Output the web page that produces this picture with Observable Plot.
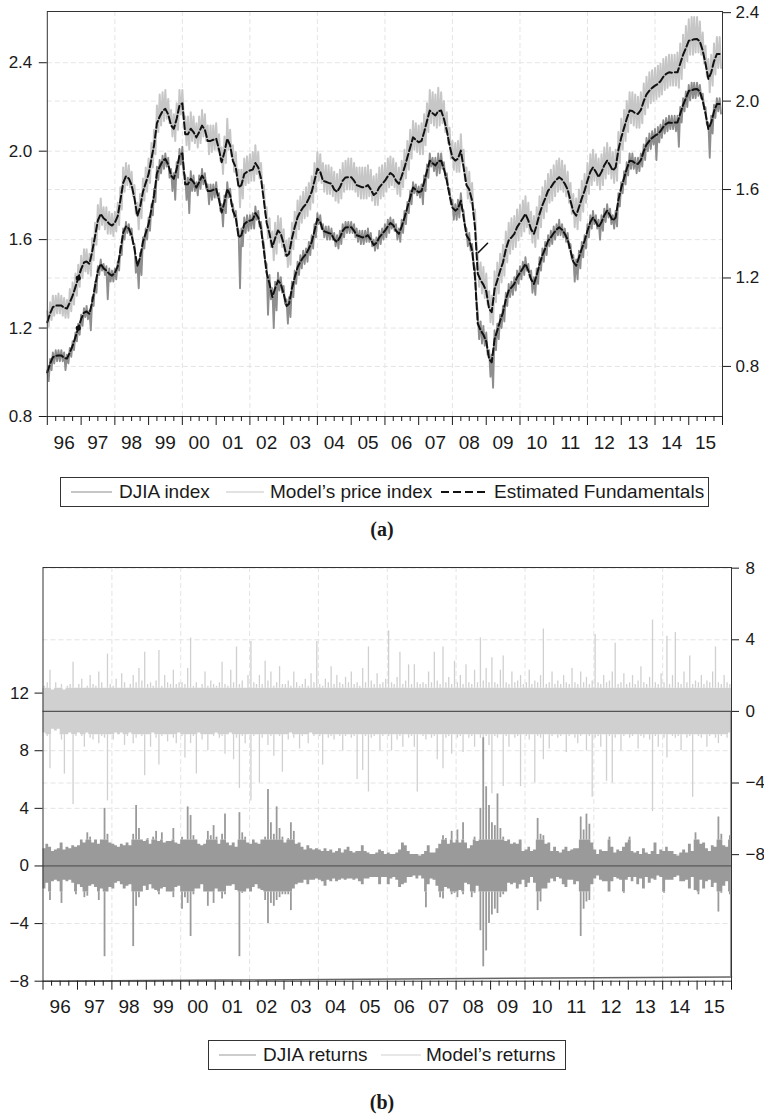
<!DOCTYPE html>
<html>
<head>
<meta charset="utf-8">
<script src="https://cdn.jsdelivr.net/npm/d3@7"></script>
<script src="https://cdn.jsdelivr.net/npm/@observablehq/plot@0.6"></script>
<style>
  body { margin: 0; background: #fff; }
  #page { position: relative; width: 764px; height: 1117px; font-family: "Liberation Sans", Arial, sans-serif; color: #1a1a1a; }
  .panel { position: absolute; left: 0; }
  .legend { position: absolute; border: 1px solid #333; box-sizing: border-box; height: 30px; background: #fff; }
  .legend .item { position: absolute; top: 0; height: 28px; line-height: 28px; font-size: 19px; white-space: nowrap; }
  .legend svg { position: absolute; top: 0; left: 0; }
  .tag { position: absolute; width: 764px; left: 0; text-align: center; font-family: "Liberation Serif", "Times New Roman", serif; font-weight: bold; font-size: 20px; }
</style>
</head>
<body>
<div id="page"></div>
<script>
// ---------- Panel (a): monthly estimated fundamentals, Jan 1996 – Dec 2015 ----------
const fundamentals = [
  1.00,1.04,1.068,1.075,1.076,1.076,1.065,1.062,1.09,1.12,1.16,1.20,
  1.24,1.27,1.275,1.264,1.32,1.39,1.46,1.49,1.47,1.46,1.445,1.437,
  1.45,1.48,1.55,1.63,1.66,1.65,1.62,1.56,1.48,1.52,1.59,1.63,
  1.67,1.74,1.80,1.90,1.93,1.955,1.965,1.94,1.89,1.875,1.92,1.98,
  1.99,1.85,1.85,1.875,1.86,1.836,1.86,1.889,1.87,1.82,1.82,1.825,
  1.83,1.78,1.723,1.77,1.83,1.80,1.73,1.70,1.61,1.62,1.67,1.68,
  1.686,1.69,1.72,1.70,1.65,1.55,1.45,1.40,1.34,1.38,1.415,1.40,
  1.355,1.30,1.31,1.38,1.43,1.475,1.50,1.52,1.535,1.56,1.59,1.64,
  1.694,1.68,1.64,1.635,1.63,1.626,1.60,1.59,1.61,1.64,1.655,1.656,
  1.656,1.64,1.62,1.615,1.61,1.612,1.62,1.60,1.575,1.585,1.61,1.625,
  1.64,1.66,1.675,1.665,1.64,1.626,1.66,1.70,1.746,1.79,1.836,1.825,
  1.814,1.82,1.86,1.91,1.957,1.945,1.935,1.955,1.957,1.92,1.867,1.80,
  1.745,1.731,1.74,1.776,1.70,1.62,1.60,1.55,1.43,1.22,1.19,1.17,
  1.14,1.06,1.045,1.15,1.19,1.234,1.27,1.33,1.37,1.384,1.40,1.43,
  1.45,1.47,1.49,1.46,1.42,1.40,1.44,1.49,1.53,1.56,1.595,1.61,
  1.63,1.645,1.656,1.645,1.626,1.60,1.55,1.50,1.482,1.52,1.56,1.595,
  1.64,1.68,1.70,1.68,1.656,1.68,1.71,1.731,1.71,1.686,1.70,1.78,
  1.836,1.88,1.92,1.957,1.955,1.945,1.942,1.96,2.00,2.03,2.047,2.06,
  2.07,2.078,2.09,2.11,2.123,2.13,2.128,2.13,2.13,2.17,2.21,2.24,
  2.273,2.275,2.28,2.281,2.27,2.228,2.17,2.10,2.13,2.18,2.213,2.213
];

// DJIA index, twice a month (1st and 16th), left axis
const djiaIndex = [
  1.01,0.96, 1.06,1.01, 1.09,1.04, 1.10,1.05, 1.10,1.05, 1.10,1.05, 1.09,1.01, 1.08,1.04, 1.11,1.07, 1.14,1.10, 1.18,1.14, 1.22,1.17,
  1.26,1.21, 1.29,1.25, 1.30,1.24, 1.28,1.19, 1.34,1.30, 1.41,1.36, 1.48,1.44, 1.51,1.46, 1.49,1.44, 1.48,1.33, 1.47,1.41, 1.46,1.41,
  1.47,1.42, 1.50,1.46, 1.57,1.53, 1.65,1.60, 1.68,1.63, 1.67,1.62, 1.65,1.58, 1.58,1.45, 1.50,1.38, 1.54,1.44, 1.61,1.56, 1.65,1.60,
  1.70,1.64, 1.76,1.71, 1.83,1.77, 1.93,1.87, 1.96,1.90, 1.98,1.92, 1.99,1.93, 1.97,1.88, 1.92,1.82, 1.90,1.78, 1.95,1.88, 2.01,1.94,
  2.02,1.90, 1.89,1.78, 1.88,1.72, 1.91,1.82, 1.89,1.82, 1.86,1.80, 1.89,1.83, 1.92,1.85, 1.90,1.83, 1.85,1.76, 1.85,1.78, 1.85,1.79,
  1.86,1.79, 1.81,1.73, 1.76,1.66, 1.80,1.72, 1.86,1.79, 1.83,1.76, 1.76,1.70, 1.73,1.66, 1.64,1.38, 1.65,1.57, 1.70,1.63, 1.71,1.64,
  1.71,1.65, 1.72,1.65, 1.75,1.69, 1.73,1.66, 1.68,1.61, 1.58,1.50, 1.49,1.26, 1.44,1.33, 1.38,1.20, 1.41,1.28, 1.45,1.37, 1.43,1.36,
  1.39,1.31, 1.33,1.22, 1.34,1.25, 1.41,1.34, 1.46,1.40, 1.50,1.44, 1.53,1.47, 1.55,1.49, 1.56,1.50, 1.59,1.53, 1.62,1.56, 1.67,1.61,
  1.72,1.67, 1.71,1.65, 1.67,1.61, 1.66,1.60, 1.66,1.60, 1.65,1.60, 1.63,1.57, 1.62,1.56, 1.64,1.58, 1.67,1.61, 1.68,1.63, 1.68,1.63,
  1.68,1.63, 1.67,1.61, 1.65,1.59, 1.64,1.58, 1.64,1.58, 1.64,1.59, 1.65,1.59, 1.63,1.57, 1.60,1.55, 1.61,1.56, 1.64,1.58, 1.65,1.60,
  1.67,1.61, 1.69,1.63, 1.70,1.65, 1.69,1.64, 1.67,1.60, 1.65,1.59, 1.69,1.63, 1.73,1.67, 1.77,1.72, 1.82,1.76, 1.86,1.81, 1.85,1.80,
  1.84,1.79, 1.85,1.76, 1.89,1.82, 1.94,1.88, 1.99,1.93, 1.97,1.91, 1.97,1.89, 1.99,1.90, 1.99,1.92, 1.95,1.88, 1.90,1.83, 1.83,1.76,
  1.78,1.69, 1.76,1.69, 1.78,1.70, 1.81,1.74, 1.73,1.66, 1.65,1.57, 1.63,1.55, 1.58,1.50, 1.47,1.33, 1.27,1.15, 1.23,1.13, 1.21,1.12,
  1.18,1.08, 1.10,0.98, 1.08,0.93, 1.19,1.10, 1.22,1.15, 1.26,1.20, 1.30,1.23, 1.36,1.30, 1.40,1.34, 1.41,1.35, 1.43,1.37, 1.46,1.40,
  1.48,1.42, 1.50,1.44, 1.52,1.46, 1.49,1.43, 1.46,1.36, 1.43,1.35, 1.47,1.40, 1.52,1.46, 1.56,1.50, 1.59,1.53, 1.62,1.57, 1.64,1.58,
  1.66,1.60, 1.67,1.62, 1.69,1.62, 1.67,1.61, 1.65,1.59, 1.63,1.56, 1.58,1.51, 1.53,1.41, 1.51,1.42, 1.55,1.47, 1.59,1.52, 1.62,1.56,
  1.67,1.61, 1.71,1.65, 1.73,1.67, 1.71,1.65, 1.69,1.60, 1.71,1.64, 1.74,1.68, 1.76,1.70, 1.74,1.67, 1.71,1.65, 1.73,1.66, 1.81,1.75,
  1.86,1.81, 1.91,1.85, 1.95,1.89, 1.99,1.92, 1.99,1.92, 1.97,1.90, 1.97,1.91, 1.99,1.93, 2.03,1.96, 2.06,2.00, 2.08,2.01, 2.09,2.03,
  2.10,1.96, 2.11,2.04, 2.12,2.06, 2.14,2.08, 2.15,2.09, 2.16,2.10, 2.16,2.10, 2.16,2.09, 2.16,2.02, 2.20,2.13, 2.24,2.18, 2.27,2.20,
  2.30,2.23, 2.31,2.24, 2.31,2.24, 2.31,2.25, 2.30,2.24, 2.26,2.19, 2.20,2.12, 2.13,1.97, 2.16,2.08, 2.21,2.15, 2.24,2.18, 2.24,2.17
];

// Model's price index, twice a month, right axis
const modelIndex = [
  1.05,0.98, 1.09,1.01, 1.12,1.03, 1.12,1.04, 1.13,1.04, 1.12,1.03, 1.11,1.02, 1.10,1.02, 1.15,1.05, 1.18,1.08, 1.22,1.12, 1.26,1.16,
  1.30,1.20, 1.33,1.23, 1.33,1.22, 1.31,1.21, 1.38,1.28, 1.45,1.35, 1.53,1.42, 1.56,1.44, 1.52,1.42, 1.52,1.40, 1.50,1.40, 1.49,1.39,
  1.50,1.41, 1.54,1.44, 1.61,1.51, 1.70,1.59, 1.72,1.62, 1.71,1.61, 1.68,1.57, 1.62,1.49, 1.54,1.42, 1.58,1.47, 1.65,1.55, 1.70,1.59,
  1.74,1.63, 1.81,1.70, 1.87,1.76, 1.98,1.86, 2.03,1.89, 2.04,1.91, 2.05,1.92, 2.01,1.90, 1.96,1.84, 1.94,1.82, 1.99,1.87, 2.05,1.94,
  2.05,1.93, 1.93,1.80, 1.93,1.78, 1.95,1.82, 1.93,1.81, 1.90,1.79, 1.93,1.81, 1.96,1.84, 1.94,1.82, 1.89,1.76, 1.89,1.77, 1.89,1.78,
  1.90,1.78, 1.85,1.73, 1.79,1.67, 1.84,1.72, 1.92,1.78, 1.87,1.75, 1.80,1.68, 1.77,1.65, 1.69,1.52, 1.69,1.56, 1.74,1.62, 1.75,1.63,
  1.76,1.64, 1.77,1.64, 1.80,1.67, 1.77,1.65, 1.72,1.60, 1.62,1.49, 1.52,1.38, 1.47,1.34, 1.41,1.28, 1.45,1.31, 1.48,1.36, 1.47,1.34,
  1.42,1.30, 1.37,1.25, 1.38,1.26, 1.45,1.33, 1.50,1.38, 1.55,1.42, 1.57,1.45, 1.59,1.47, 1.61,1.48, 1.63,1.51, 1.66,1.54, 1.72,1.59,
  1.77,1.64, 1.76,1.63, 1.72,1.59, 1.71,1.58, 1.71,1.58, 1.70,1.57, 1.68,1.55, 1.67,1.54, 1.69,1.56, 1.72,1.59, 1.73,1.60, 1.74,1.60,
  1.74,1.60, 1.72,1.59, 1.70,1.57, 1.70,1.56, 1.70,1.56, 1.70,1.56, 1.71,1.57, 1.69,1.55, 1.66,1.53, 1.67,1.53, 1.70,1.56, 1.71,1.57,
  1.72,1.59, 1.74,1.61, 1.75,1.62, 1.74,1.61, 1.72,1.58, 1.70,1.57, 1.73,1.61, 1.78,1.65, 1.82,1.69, 1.87,1.74, 1.91,1.78, 1.90,1.77,
  1.89,1.76, 1.90,1.76, 1.94,1.80, 1.99,1.86, 2.05,1.90, 2.04,1.89, 2.03,1.88, 2.06,1.89, 2.04,1.90, 2.00,1.86, 1.95,1.81, 1.88,1.74,
  1.82,1.69, 1.81,1.68, 1.82,1.68, 1.85,1.72, 1.78,1.64, 1.70,1.56, 1.68,1.54, 1.63,1.49, 1.51,1.37, 1.30,1.16, 1.27,1.13, 1.25,1.11,
  1.22,1.08, 1.14,1.00, 1.12,0.99, 1.23,1.09, 1.27,1.13, 1.31,1.18, 1.35,1.21, 1.41,1.27, 1.45,1.31, 1.47,1.33, 1.48,1.34, 1.51,1.37,
  1.53,1.39, 1.55,1.41, 1.57,1.43, 1.54,1.40, 1.50,1.36, 1.48,1.34, 1.52,1.38, 1.57,1.43, 1.61,1.47, 1.64,1.50, 1.67,1.54, 1.69,1.55,
  1.71,1.57, 1.73,1.59, 1.74,1.60, 1.73,1.59, 1.71,1.57, 1.68,1.54, 1.63,1.49, 1.58,1.43, 1.56,1.42, 1.60,1.46, 1.64,1.50, 1.67,1.54,
  1.72,1.58, 1.76,1.62, 1.78,1.64, 1.76,1.62, 1.74,1.60, 1.76,1.62, 1.79,1.65, 1.81,1.67, 1.79,1.65, 1.77,1.63, 1.78,1.64, 1.86,1.72,
  1.92,1.78, 1.96,1.82, 2.00,1.86, 2.04,1.90, 2.04,1.89, 2.03,1.88, 2.02,1.88, 2.04,1.90, 2.08,1.94, 2.11,1.97, 2.13,1.99, 2.14,2.00,
  2.15,2.01, 2.16,2.02, 2.17,2.03, 2.19,2.05, 2.20,2.06, 2.21,2.07, 2.21,2.07, 2.21,2.07, 2.22,2.06, 2.26,2.10, 2.30,2.15, 2.34,2.18,
  2.37,2.21, 2.38,2.21, 2.38,2.22, 2.38,2.22, 2.36,2.21, 2.31,2.17, 2.25,2.11, 2.19,2.04, 2.21,2.07, 2.26,2.12, 2.29,2.15, 2.29,2.15
];

// isolated observation drawn as a dot, and the short solid piece around the 2008 break (right-axis units)
const fundamentalsMarked = ["1996-12-01"];
const fundamentalsFragment = [
  { date: "2008-10-08", value: 1.315 },
  { date: "2009-01-15", value: 1.357 }
];

const leftTicksA = [0.8, 1.2, 1.6, 2.0, 2.4];
const rightTicksA = [0.8, 1.2, 1.6, 2.0, 2.4];

// ---------- Panel (b): daily returns, largest rise then largest fall of each month ----------
const djiaReturns = [
  1.2,-1.6, 1.5,-1.2, 1.3,-2.4, 1.0,-1.1, 1.1,-1.0, 1.2,-1.1, 1.6,-2.6, 1.1,-1.0, 1.3,-1.1, 1.2,-1.0, 1.4,-1.2, 1.3,-2.0,
  1.4,-1.3, 1.8,-1.5, 1.6,-2.2, 2.3,-2.1, 2.0,-1.4, 1.6,-1.3, 1.8,-1.5, 1.5,-2.4, 1.8,-1.6, 4.0,-6.3, 2.2,-1.8, 1.6,-1.5,
  1.5,-1.6, 1.4,-1.2, 1.3,-1.1, 1.5,-1.3, 1.4,-1.6, 1.6,-1.4, 1.4,-1.3, 2.2,-5.6, 4.2,-2.8, 2.6,-2.2, 1.8,-1.8, 1.7,-1.4,
  1.9,-1.7, 1.5,-1.3, 2.0,-1.6, 2.4,-1.7, 1.7,-2.0, 2.3,-1.6, 1.6,-1.5, 1.7,-1.8, 1.7,-1.8, 2.6,-2.2, 1.6,-1.5, 1.5,-1.4,
  2.0,-3.0, 1.8,-2.2, 4.1,-2.6, 3.5,-4.9, 2.1,-2.0, 1.8,-1.6, 1.5,-1.6, 1.4,-1.3, 1.5,-1.8, 2.4,-2.8, 2.1,-1.8, 2.8,-2.6,
  2.0,-1.6, 1.5,-1.8, 2.2,-2.3, 3.6,-2.0, 1.6,-1.4, 1.4,-1.4, 1.6,-1.3, 1.3,-1.7, 3.7,-6.3, 2.3,-1.9, 2.0,-1.8, 1.6,-1.6,
  1.5,-1.8, 1.8,-1.5, 1.6,-1.3, 1.5,-1.6, 1.8,-1.7, 2.0,-2.4, 5.3,-4.0, 3.0,-2.6, 2.2,-2.8, 4.1,-2.4, 2.6,-2.2, 2.0,-2.0,
  1.6,-2.0, 1.9,-2.0, 3.0,-3.1, 2.4,-1.6, 1.5,-1.3, 1.6,-1.2, 1.3,-1.2, 1.1,-1.0, 1.4,-1.3, 1.2,-1.0, 1.1,-1.0, 1.2,-0.9,
  1.1,-1.0, 1.0,-1.1, 1.2,-1.4, 1.0,-1.0, 1.1,-1.1, 0.9,-0.9, 1.0,-1.1, 1.2,-1.0, 0.9,-0.9, 1.1,-1.0, 1.3,-0.9, 1.0,-0.9,
  0.9,-1.0, 1.0,-0.9, 1.0,-1.1, 1.4,-1.3, 1.0,-0.9, 0.9,-0.9, 0.8,-0.8, 0.8,-0.8, 0.9,-0.8, 1.1,-1.3, 1.0,-0.8, 0.8,-0.8,
  0.9,-1.3, 0.8,-0.9, 0.8,-0.8, 0.9,-1.0, 1.1,-1.5, 1.6,-1.3, 1.4,-1.2, 1.0,-0.8, 0.8,-0.8, 0.8,-0.7, 0.8,-0.9, 0.7,-0.7,
  0.8,-0.9, 1.0,-2.9, 1.4,-1.3, 0.9,-0.9, 0.9,-1.0, 1.2,-1.4, 1.5,-2.2, 2.1,-2.3, 1.9,-1.5, 1.5,-1.6, 2.4,-2.0, 1.6,-1.9,
  2.5,-2.2, 1.6,-1.7, 3.0,-2.0, 1.6,-1.2, 1.2,-1.3, 1.4,-2.2, 2.0,-1.9, 1.7,-1.4, 4.0,-4.5, 8.9,-7.0, 5.5,-5.9, 4.2,-4.0,
  3.0,-3.4, 2.8,-3.0, 5.0,-3.3, 2.6,-2.2, 2.0,-2.0, 1.7,-1.8, 1.8,-1.2, 1.5,-1.3, 1.6,-1.2, 1.5,-1.6, 1.8,-1.3, 1.0,-1.0,
  1.1,-1.5, 1.3,-1.2, 1.0,-0.8, 1.1,-1.2, 3.3,-3.1, 2.2,-2.5, 2.1,-1.6, 1.5,-1.6, 1.6,-1.2, 1.0,-0.9, 1.3,-1.1, 1.0,-0.8,
  0.9,-0.9, 1.1,-1.3, 1.3,-1.5, 1.0,-1.0, 1.1,-1.0, 1.2,-1.3, 1.2,-1.1, 3.4,-4.9, 2.5,-3.0, 3.6,-2.5, 2.9,-2.4, 1.6,-1.3,
  1.1,-0.9, 0.8,-0.7, 1.1,-1.0, 1.0,-1.1, 1.0,-1.1, 2.0,-1.8, 1.3,-1.1, 0.9,-0.8, 1.1,-0.9, 1.0,-1.0, 1.3,-1.9, 1.6,-1.0,
  2.0,-0.8, 1.0,-1.1, 0.9,-0.8, 1.0,-1.3, 0.8,-0.9, 1.2,-1.6, 0.9,-0.8, 0.8,-1.2, 1.0,-0.9, 1.6,-1.0, 0.8,-0.7, 1.1,-0.8,
  1.0,-1.9, 1.3,-1.0, 1.0,-1.0, 1.0,-1.0, 0.8,-0.8, 0.7,-0.7, 0.9,-1.1, 1.1,-1.1, 0.9,-1.0, 1.5,-1.6, 1.0,-0.8, 2.3,-1.7,
  1.8,-2.0, 1.5,-1.0, 1.6,-1.6, 1.2,-1.1, 1.0,-1.0, 1.4,-1.5, 1.3,-1.2, 3.4,-3.2, 2.2,-1.9, 1.4,-1.4, 1.3,-1.1, 2.1,-2.0
];

const modelReturns = [
  1.4,-1.2, 1.6,-1.4, 2.3,-3.2, 1.2,-1.0, 1.6,-1.1, 1.3,-1.0, 1.5,-1.6, 1.2,-3.5, 1.4,-1.3, 1.5,-1.2, 2.75,-5.2, 1.3,-1.4,
  1.5,-1.2, 1.8,-1.4, 1.3,-2.0, 1.4,-1.2, 2.0,-1.5, 1.5,-1.6, 1.4,-1.3, 2.2,-1.8, 1.6,-1.4, 1.3,-1.5, 3.2,-5.0, 1.5,-1.3,
  1.4,-1.6, 1.8,-1.2, 1.3,-1.3, 2.1,-1.2, 1.6,-1.9, 1.3,-1.4, 1.5,-1.2, 2.0,-1.8, 1.6,-1.5, 2.4,-1.3, 1.7,-1.4, 3.3,-3.6,
  1.5,-1.3, 1.6,-2.0, 1.4,-1.2, 1.7,-1.5, 3.4,-3.0, 1.4,-1.4, 2.0,-1.3, 1.6,-1.7, 1.5,-1.3, 2.3,-1.5, 1.5,-1.8, 1.6,-1.2,
  1.6,-1.4, 1.5,-2.6, 2.4,-1.3, 4.1,-1.8, 1.4,-1.4, 1.6,-3.5, 1.3,-1.2, 1.5,-1.6, 2.2,-1.3, 1.4,-2.2, 1.7,-1.3, 1.5,-1.4,
  1.4,-1.2, 1.6,-1.5, 2.75,-1.4, 1.5,-2.4, 1.4,-1.3, 2.3,-1.2, 1.6,-2.7, 3.6,-1.5, 1.5,-4.3, 1.7,-1.4, 1.3,-1.8, 2.0,-1.3,
  3.9,-5.0, 1.6,-1.4, 1.5,-1.3, 2.0,-4.0, 1.5,-1.5, 2.8,-1.3, 1.7,-1.9, 2.2,-1.4, 1.4,-2.5, 1.6,-1.3, 2.5,-1.4, 1.5,-3.4,
  1.5,-1.3, 1.7,-1.6, 1.4,-1.2, 2.2,-1.5, 1.6,-1.3, 1.4,-2.1, 1.5,-1.4, 1.8,-1.3, 1.4,-1.8, 2.1,-1.2, 1.6,-1.4, 3.9,-1.3,
  1.5,-1.4, 1.4,-3.0, 1.8,-1.3, 1.6,-1.5, 2.5,-1.4, 1.5,-1.6, 2.0,-1.3, 1.6,-1.4, 1.5,-2.2, 1.9,-1.4, 1.6,-1.3, 2.2,-1.5,
  1.5,-1.4, 1.6,-3.8, 1.4,-1.3, 2.4,-3.3, 1.6,-1.4, 3.6,-4.5, 1.7,-1.5, 1.5,-1.4, 2.1,-1.3, 1.5,-2.2, 1.6,-1.4, 1.8,-1.3,
  4.5,-1.4, 1.6,-2.2, 1.5,-1.3, 1.9,-1.6, 3.3,-1.4, 1.5,-2.0, 1.7,-1.3, 2.6,-1.5, 1.5,-1.4, 2.6,-2.0, 1.6,-4.5, 1.5,-1.3,
  1.6,-1.4, 1.5,-1.6, 2.2,-1.3, 1.6,-1.5, 3.3,-1.4, 1.7,-2.7, 1.5,-1.3, 3.6,-3.2, 1.6,-1.5, 1.9,-1.4, 1.5,-2.4, 2.8,-1.3,
  1.6,-1.5, 2.0,-1.4, 1.5,-2.3, 2.6,-1.3, 1.6,-1.5, 1.5,-1.4, 2.3,-2.0, 1.6,-1.3, 4.1,-1.5, 1.7,-2.8, 2.4,-1.4, 1.6,-1.9,
  3.0,-4.6, 1.6,-1.4, 1.5,-1.5, 2.3,-1.3, 3.1,-4.2, 1.6,-1.4, 1.5,-2.0, 2.2,-1.3, 1.6,-1.5, 1.7,-1.4, 2.0,-4.2, 1.5,-1.3,
  1.6,-1.4, 2.3,-1.6, 1.5,-1.3, 1.7,-4.0, 1.6,-1.4, 2.0,-1.5, 4.6,-2.7, 1.5,-1.3, 1.6,-2.1, 2.2,-1.4, 1.5,-1.3, 1.7,-1.5,
  1.5,-1.4, 2.0,-1.3, 1.6,-2.3, 1.5,-1.4, 2.4,-1.3, 1.6,-1.5, 1.5,-1.8, 2.2,-1.4, 1.6,-1.3, 1.9,-2.2, 1.5,-1.4, 1.7,-4.8,
  4.3,-1.5, 1.6,-1.4, 1.5,-2.0, 2.0,-1.3, 1.6,-3.9, 1.7,-1.4, 2.2,-4.0, 3.8,-1.5, 1.5,-1.3, 1.6,-2.2, 2.1,-1.4, 1.5,-1.3,
  1.6,-1.5, 2.0,-1.4, 1.5,-1.3, 1.7,-2.1, 2.5,-1.4, 1.6,-1.5, 1.5,-1.3, 1.9,-1.6, 5.1,-5.6, 1.6,-1.4, 1.5,-2.0, 2.1,-1.3,
  1.6,-1.5, 4.2,-2.6, 1.5,-1.3, 2.0,-1.4, 4.4,-1.5, 1.6,-1.4, 1.5,-2.2, 2.2,-1.3, 1.6,-1.5, 3.1,-1.4, 1.5,-4.8, 1.7,-1.3,
  1.6,-1.4, 2.0,-1.5, 1.5,-1.3, 1.7,-2.0, 1.6,-1.4, 2.2,-1.3, 3.6,-1.5, 1.6,-1.8, 1.5,-1.4, 2.0,-1.3, 1.6,-1.5, 1.5,-1.2
];
// final model observation (right axis) and the trace running along the bottom edge (left axis)
const modelReturnsTail = [{ date: "2015-12-22", value: -14.8 }];
const bottomTrace = [
  { date: "1996-01-01", value: -8.0 },
  { date: "2016-01-01", value: -7.7 }
];

const leftTicksB = [12, 8, 4, 0, -4, -8];
const rightTicksB = [8, 4, 0, -4, -8];

// ---------- shared time helpers ----------
const utc = s => new Date(s + "T00:00:00Z");
const start = new Date(Date.UTC(1996, 0, 1));
const end = new Date(Date.UTC(2016, 0, 1));
const months = d3.utcMonths(start, end);                                   // 240 month starts
const halfMonths = months.flatMap(d => [d, d3.utcDay.offset(d, 15)]);       // 1st and 16th
const yearTicks = d3.utcYears(start, d3.utcDay.offset(end, 1));
const quarterTicks = d3.utcMonths(start, d3.utcDay.offset(end, 1), 3).filter(d => d.getUTCMonth() !== 0);
const yearLabels = d3.range(1996, 2016).map(y => new Date(Date.UTC(y, 6, 1)));
const gridYears = d3.range(1998, 2016, 2).map(y => new Date(Date.UTC(y, 0, 1)));

const fundSeries = months.map((date, i) => ({ date, value: fundamentals[i] }));
const djiaSeries = halfMonths.map((date, i) => ({ date, value: djiaIndex[i] }));
const modelSeries = halfMonths.map((date, i) => ({ date, value: modelIndex[i] }));
const markedFund = fundSeries.filter(d => fundamentalsMarked.includes(d3.utcFormat("%Y-%m-%d")(d.date)));

const GRID = { stroke: "#e4e4e4", strokeDasharray: "5,3", strokeWidth: 1 };
const FONT = "'Liberation Sans', Arial, sans-serif";

function xAxes() {
  return [
    Plot.axisX({ ticks: yearTicks, tickSize: 9, tickFormat: () => "", label: null }),
    Plot.axisX({ ticks: quarterTicks, tickSize: 5, tickFormat: () => "", label: null }),
    Plot.axisX({ ticks: yearLabels, tickSize: 0, tickPadding: 18.5, tickFormat: d3.utcFormat("%y"), fontSize: 19, label: null })
  ];
}

// ---------- panel (a) ----------
// right axis of (a) is the left axis shifted by a constant
const A_SHIFT = 0.2265;
const onRightA = v => v + A_SHIFT;

const plotA = Plot.plot({
  width: 764, height: 460,
  marginLeft: 46.8, marginRight: 42, marginTop: 11, marginBottom: 44,
  x: { type: "utc", domain: [start, end], axis: null, label: null },
  y: { domain: [0.8, 0.8 + 405 / 221.1], axis: null, label: null },
  style: { fontFamily: FONT, fontSize: "17px", color: "#1a1a1a", background: "transparent", overflow: "visible" },
  marks: [
    Plot.ruleX(gridYears, GRID),
    Plot.ruleY(leftTicksA.slice(1), GRID),
    Plot.ruleY(rightTicksA.slice(0, -1).map(onRightA), GRID),
    Plot.line(modelSeries, { x: "date", y: d => onRightA(d.value), stroke: "#c6c6c6", strokeWidth: 2 }),
    Plot.line(djiaSeries, { x: "date", y: "value", stroke: "#8e8e8e", strokeWidth: 1.9 }),
    Plot.line(fundSeries, { x: "date", y: d => onRightA(d.value), stroke: "#111", strokeWidth: 2, strokeDasharray: "7,3" }),
    Plot.line(fundSeries, { x: "date", y: "value", stroke: "#111", strokeWidth: 2, strokeDasharray: "7,3" }),
    Plot.line(fundamentalsFragment, { x: d => utc(d.date), y: d => onRightA(d.value), stroke: "#111", strokeWidth: 1.6 }),
    Plot.dot(markedFund, { x: "date", y: "value", r: 2.6, fill: "#111", stroke: null }),
    Plot.dot(markedFund, { x: "date", y: d => onRightA(d.value), r: 2.6, fill: "#111", stroke: null }),
    Plot.frame({ stroke: "#333", strokeWidth: 1 }),
    Plot.axisY({ anchor: "left", ticks: leftTicksA, tickSize: 8, tickPadding: 7, tickFormat: d3.format(".1f"), label: null }),
    Plot.axisY({ anchor: "right", ticks: rightTicksA.map(onRightA), tickSize: 8, tickPadding: 5,
      tickFormat: v => d3.format(".1f")(v - A_SHIFT), label: null }),
    ...xAxes()
  ]
});

// ---------- panel (b) ----------
// right axis of (b): value r sits at left-axis value B_ZERO + B_SCALE * r
const B_ZERO = 10.73, B_SCALE = 1.243;
const onRightB = v => B_ZERO + B_SCALE * v;
// each month is a solid step up to the usual daily range; larger moves continue as needles
const CORE_DJIA = 1.8, CORE_MODEL = 1.3;
const core = (v, c) => Math.max(-c, Math.min(c, v));

function returnMarks(values, c, color, toY, needleWidth) {
  const rises = months.map((date, i) => ({ date, value: values[2 * i] }));
  const falls = months.map((date, i) => ({ date, value: values[2 * i + 1] }));
  const closeEnd = s => s.concat([{ date: end, value: s[s.length - 1].value }]);
  const needles = halfMonths.map((date, i) => ({ date: d3.utcDay.offset(months[i >> 1], 14), value: values[i] }))
    .filter(d => Math.abs(d.value) > c);
  return [
    Plot.areaY(closeEnd(rises), { x: "date", y1: toY(0), y2: d => toY(core(d.value, c)), curve: "step-after", fill: color }),
    Plot.areaY(closeEnd(falls), { x: "date", y1: toY(0), y2: d => toY(core(d.value, c)), curve: "step-after", fill: color }),
    Plot.ruleX(needles, { x: "date", y1: d => toY(Math.sign(d.value) * c), y2: d => toY(d.value), stroke: color, strokeWidth: needleWidth })
  ];
}

const plotB = Plot.plot({
  width: 764, height: 480,
  marginLeft: 42.5, marginRight: 33, marginTop: 17, marginBottom: 49.3,
  x: { type: "utc", domain: [start, end], axis: null, label: null },
  y: { domain: [-8, 20.72], axis: null, label: null },
  style: { fontFamily: FONT, fontSize: "17px", color: "#1a1a1a", background: "transparent", overflow: "visible" },
  marks: [
    Plot.ruleX(gridYears, GRID),
    Plot.ruleY(leftTicksB.slice(0, -1), GRID),
    Plot.ruleY(rightTicksB.map(onRightB), GRID),
    ...returnMarks(modelReturns, CORE_MODEL, "#d0d0d0", onRightB, 1.3),
    Plot.ruleX(modelReturnsTail, { x: d => utc(d.date), y1: onRightB(0), y2: d => onRightB(d.value), stroke: "#9a9a9a", strokeWidth: 1.2 }),
    ...returnMarks(djiaReturns, CORE_DJIA, "#9a9a9a", v => v, 1.8),
    Plot.ruleY([onRightB(0)], { stroke: "#555", strokeWidth: 1.3 }),
    Plot.ruleY([0], { stroke: "#555", strokeWidth: 1.3 }),
    Plot.line(bottomTrace, { x: d => utc(d.date), y: "value", stroke: "#666", strokeWidth: 1.5 }),
    Plot.frame({ stroke: "#333", strokeWidth: 1 }),
    Plot.axisY({ anchor: "left", ticks: leftTicksB, tickSize: 8, tickPadding: 6, tickFormat: d3.format("d"), label: null }),
    Plot.axisY({ anchor: "right", ticks: rightTicksB.map(onRightB), tickSize: 7, tickPadding: 7,
      tickFormat: v => d3.format("d")(Math.round((v - B_ZERO) / B_SCALE)), label: null }),
    ...xAxes()
  ]
});

// ---------- page assembly ----------
const page = document.getElementById("page");
function place(node, top) {
  const wrap = document.createElement("div");
  wrap.className = "panel";
  wrap.style.top = top + "px";
  wrap.appendChild(node);
  page.appendChild(wrap);
}
place(plotA, 0);
place(plotB, 550);

function legend(left, top, width, entries) {
  const box = document.createElement("div");
  box.className = "legend";
  Object.assign(box.style, { left: left + "px", top: top + "px", width: width + "px" });
  const ns = "http://www.w3.org/2000/svg";
  const svg = document.createElementNS(ns, "svg");
  svg.setAttribute("width", width);
  svg.setAttribute("height", 28);
  for (const e of entries) {
    const ln = document.createElementNS(ns, "line");
    ln.setAttribute("x1", e.x1); ln.setAttribute("x2", e.x2);
    ln.setAttribute("y1", 14); ln.setAttribute("y2", 14);
    ln.setAttribute("stroke", e.color);
    ln.setAttribute("stroke-width", e.width || 1.2);
    if (e.dash) ln.setAttribute("stroke-dasharray", e.dash);
    svg.appendChild(ln);
    const t = document.createElement("div");
    t.className = "item";
    t.style.left = e.tx + "px";
    t.textContent = e.label;
    box.appendChild(t);
  }
  box.appendChild(svg);
  page.appendChild(box);
}

legend(60, 477, 649, [
  { x1: 10, x2: 51, color: "#8e8e8e", tx: 58, label: "DJIA index" },
  { x1: 165, x2: 203, color: "#c6c6c6", tx: 209, label: "Model\u2019s price index" },
  { x1: 380, x2: 424, color: "#111", width: 2, dash: "8,4", tx: 433, label: "Estimated Fundamentals" }
]);
legend(208, 1040, 358, [
  { x1: 10, x2: 47, color: "#9a9a9a", tx: 54, label: "DJIA returns" },
  { x1: 172, x2: 212, color: "#d0d0d0", tx: 217, label: "Model\u2019s returns" }
]);

function tag(text, top) {
  const d = document.createElement("div");
  d.className = "tag";
  d.style.top = top + "px";
  d.textContent = text;
  page.appendChild(d);
}
tag("(a)", 518);
tag("(b)", 1091);
</script>
</body>
</html>
